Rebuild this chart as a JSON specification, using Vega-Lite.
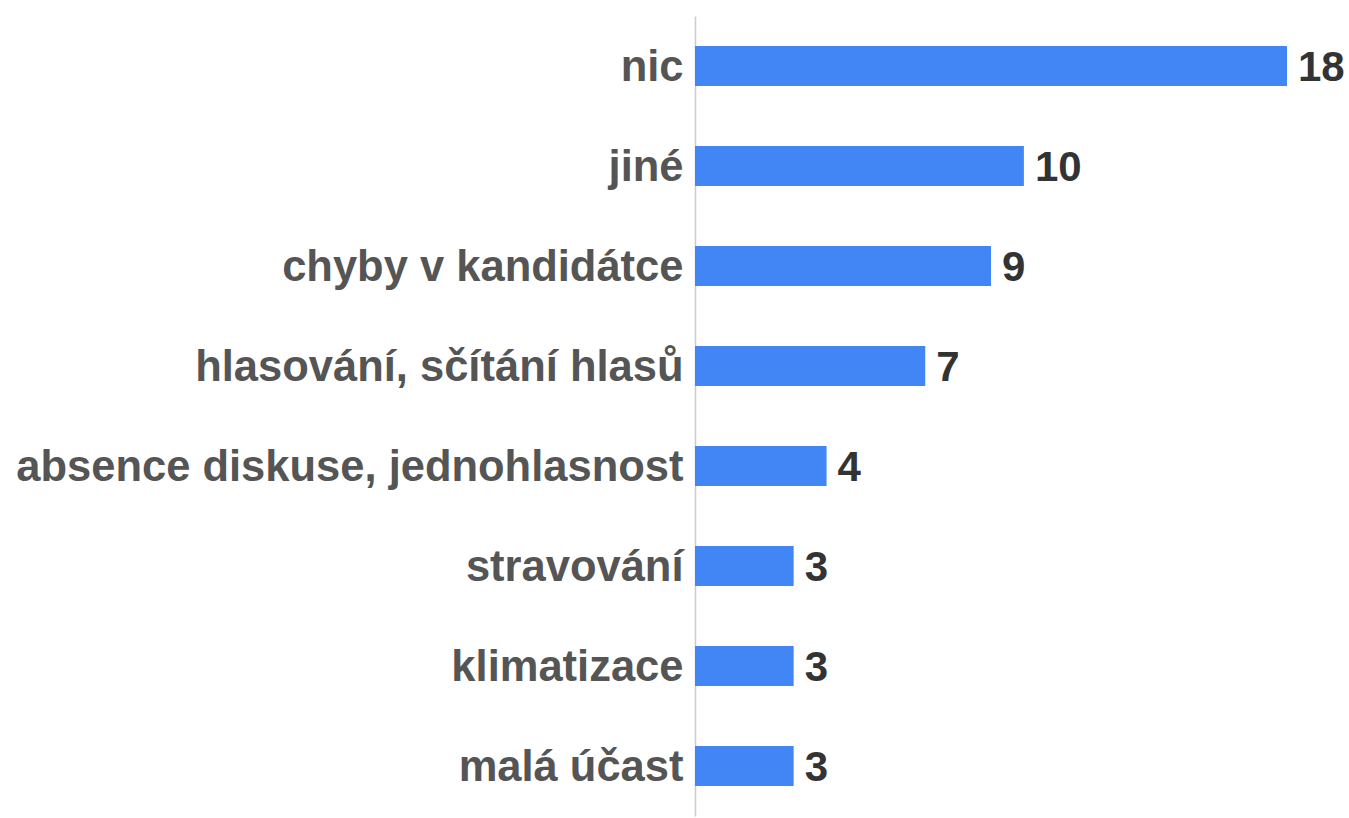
{
  "$schema": "https://vega.github.io/schema/vega-lite/v6.json",
  "autosize": "none",
  "padding": {"left": 695, "top": 16, "right": 62, "bottom": 2},
  "width": 592,
  "height": 800,
  "background": "white",
  "config": {"view": {"stroke": null}},
  "data": {"values": [
    {"kategorie": "nic", "pocet": 18},
    {"kategorie": "jiné", "pocet": 10},
    {"kategorie": "chyby v kandidátce", "pocet": 9},
    {"kategorie": "hlasování, sčítání hlasů", "pocet": 7},
    {"kategorie": "absence diskuse, jednohlasnost", "pocet": 4},
    {"kategorie": "stravování", "pocet": 3},
    {"kategorie": "klimatizace", "pocet": 3},
    {"kategorie": "malá účast", "pocet": 3}
  ]},
  "encoding": {
    "y": {"field": "kategorie", "type": "nominal", "sort": null,
      "scale": {"paddingInner": 0.6, "paddingOuter": 0.3},
      "axis": {"title": null, "ticks": false, "labelPadding": 12, "labelFont": "Liberation Sans", "labelFontWeight": "bold", "labelFontSize": 43.5, "labelColor": "#555555", "domainColor": "#cccccc", "domainWidth": 1.5, "labelLimit": 0, "labelOffset": 2}},
    "x": {"field": "pocet", "type": "quantitative", "scale": {"domain": [0, 18]}, "axis": null}
  },
  "layer": [
    {"mark": {"type": "bar", "color": "#4285F4"}},
    {"mark": {"type": "text", "align": "left", "baseline": "middle", "dx": 11, "dy": 2, "font": "Liberation Sans", "fontWeight": "bold", "fontSize": 42, "color": "#333333"},
     "encoding": {"text": {"field": "pocet", "type": "quantitative"}}}
  ]
}
